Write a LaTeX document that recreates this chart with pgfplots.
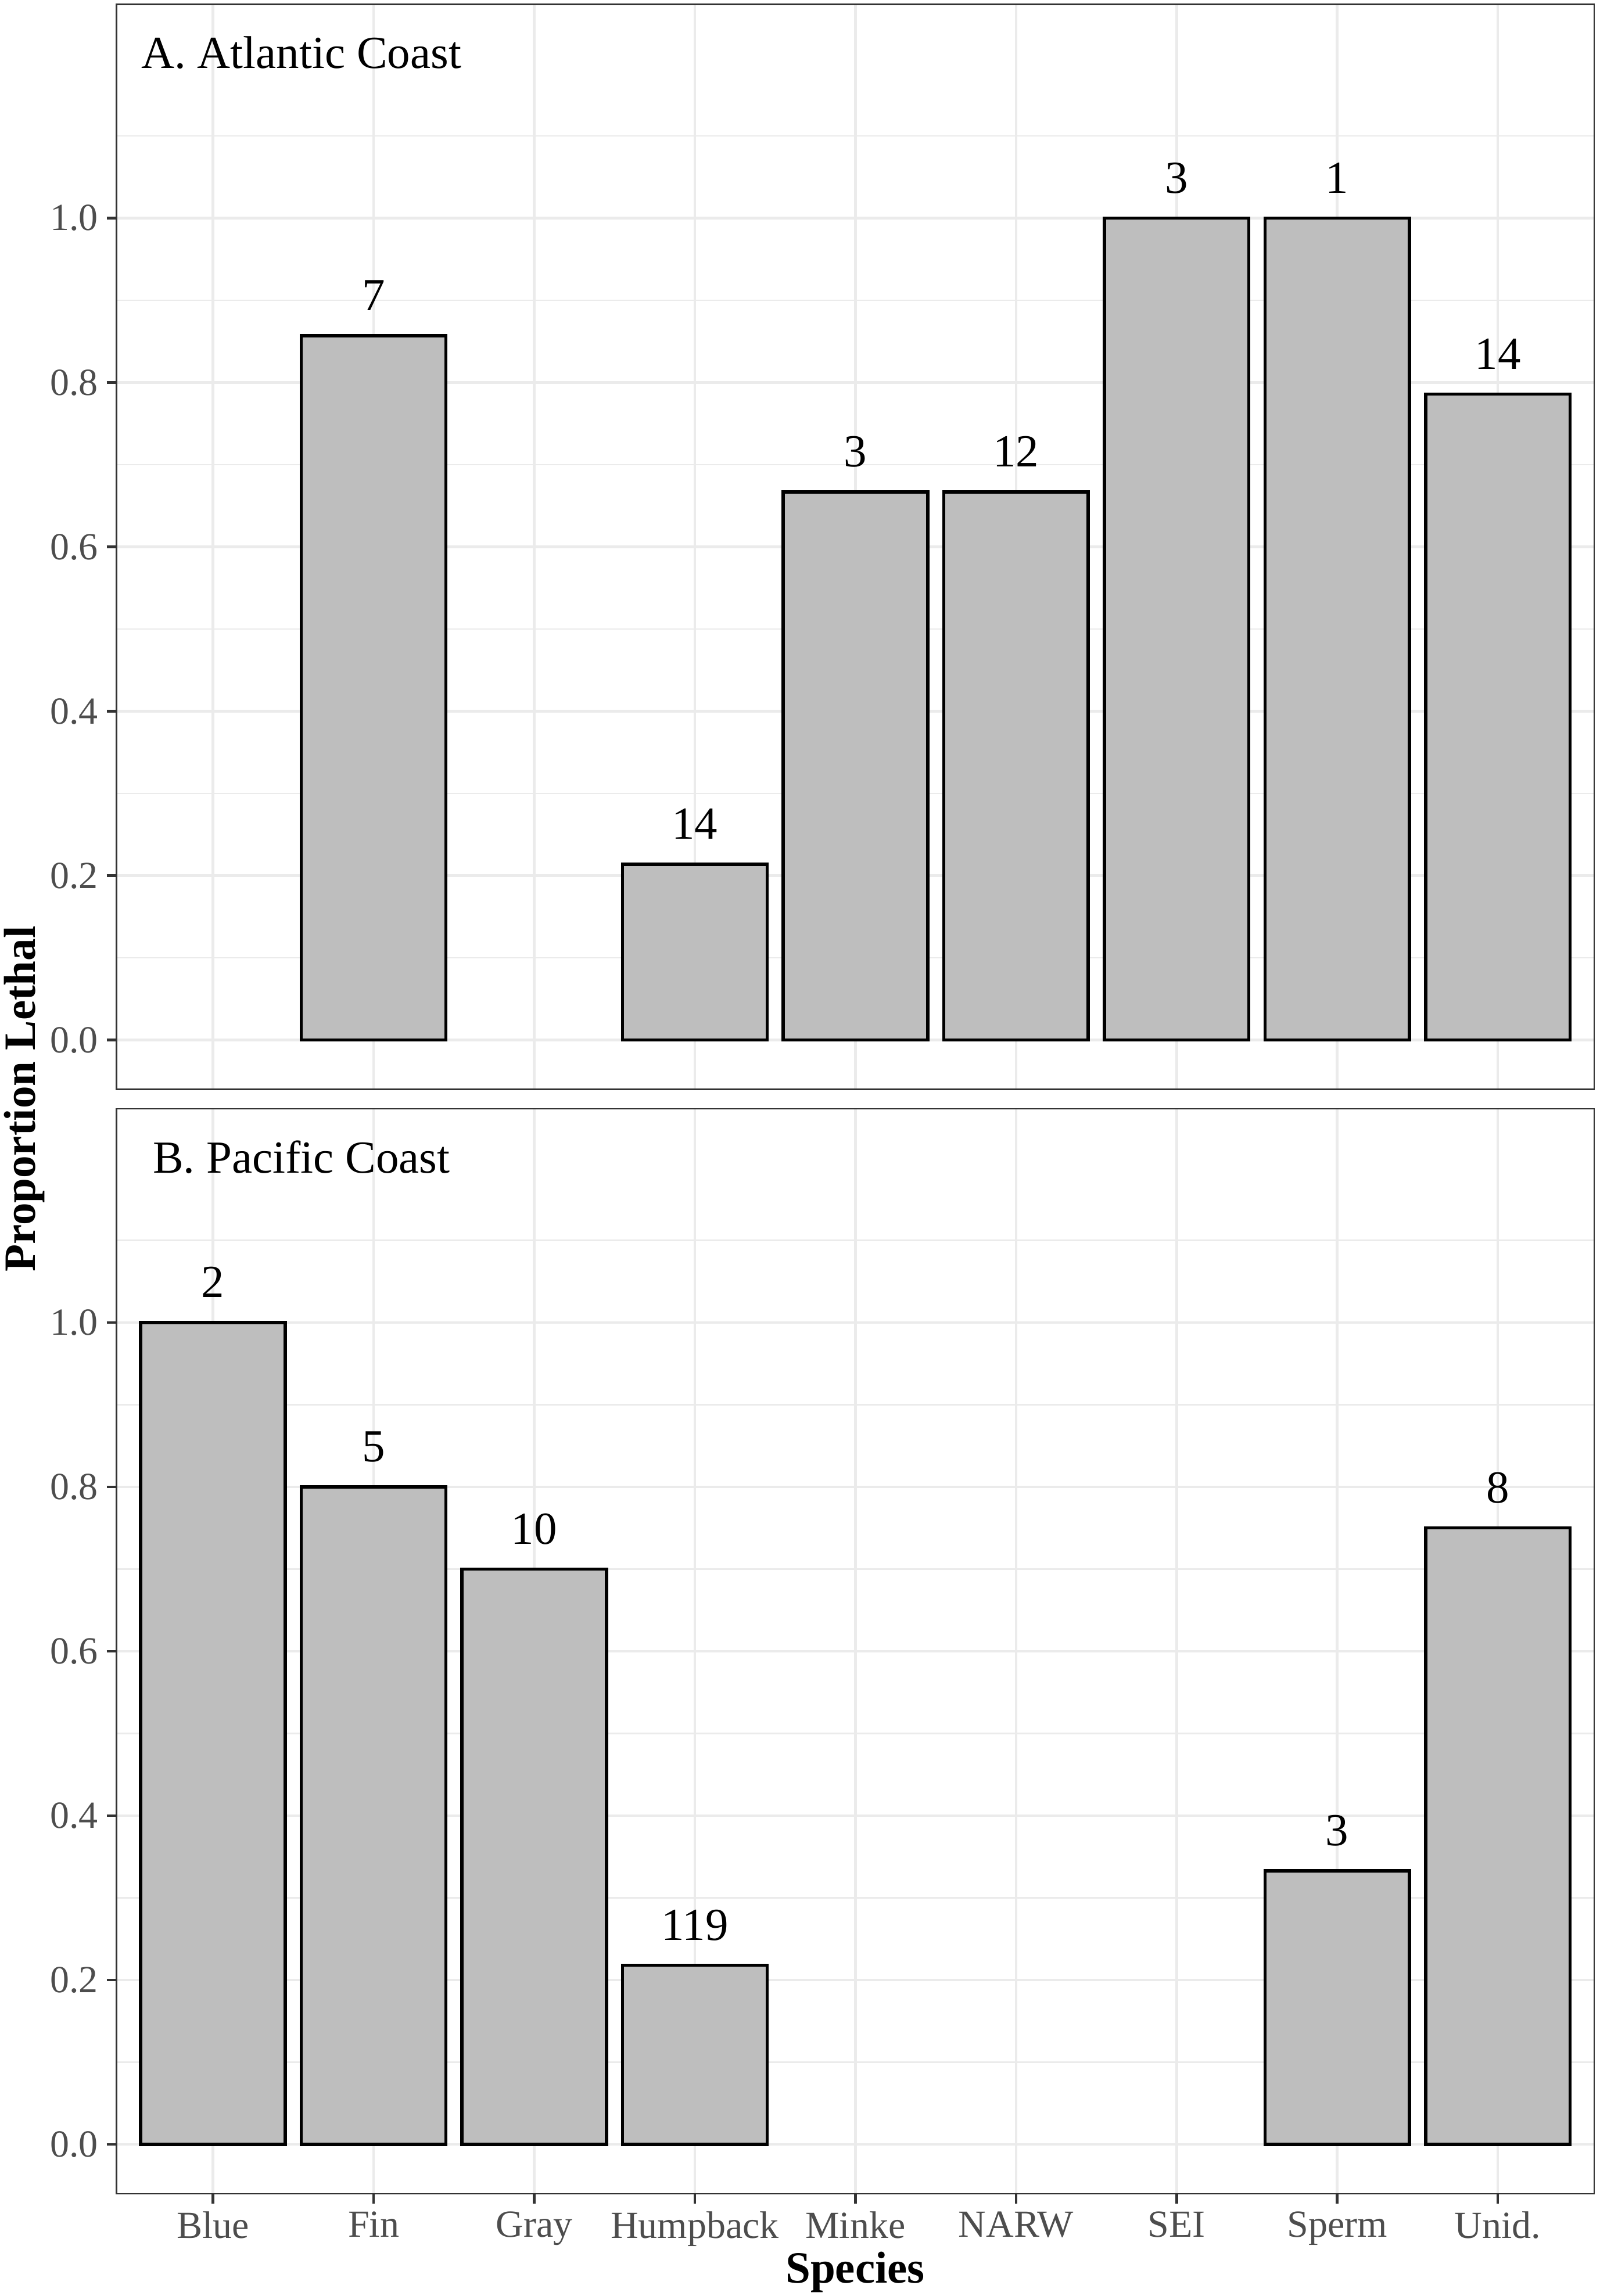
\documentclass[border=0pt]{standalone}
\usepackage{pgfplots}
\pgfplotsset{compat=1.18}
\usepackage{fontspec}
\setmainfont{Liberation Serif}
\definecolor{gridgray}{HTML}{EBEBEB}
\definecolor{grayA}{HTML}{333333}
\definecolor{grayB}{HTML}{4D4D4D}
\definecolor{barfill}{HTML}{BEBEBE}
\pgfplotsset{
  panel/.style={
    scale only axis, width=254.33pt, height=186.8pt,
    xmin=0.4, xmax=9.6, ymin=-0.06, ymax=1.26,
    xtick={1,...,9},
    ytick={0,0.2,0.4,0.6,0.8,1.0},
    minor ytick={0.1,0.3,0.5,0.7,0.9,1.1},
    yticklabel style={/pgf/number format/fixed, /pgf/number format/fixed zerofill, /pgf/number format/precision=1},
    /pgf/number format/assume math mode=true,
    grid=both,
    major grid style={color=gridgray, line width=0.45pt},
    minor grid style={color=gridgray, line width=0.23pt},
    tick align=outside, tick pos=left,
    major tick length=1.7pt, minor tick length=0pt,
    tick style={color=grayA, line width=0.45pt},
    axis line style={color=grayA, line width=0.27pt},
    ticklabel style={font=\fontsize{6.6}{7.9}\selectfont, text=grayB, inner sep=0pt},
    yticklabel style={xshift=-1.3pt},
    xticklabel style={yshift=-1.2pt},
    ybar, bar width=0.9, bar shift=0pt,
    point meta=explicit symbolic,
    nodes near coords,
    every node near coord/.append style={anchor=base, yshift=4.3pt, inner sep=0pt, font=\fontsize{7.9}{9.5}\selectfont, text=black},
  },
  barstyle/.style={fill=barfill, draw=black, line width=0.55pt},
}
\begin{document}
\begin{tikzpicture}
\useasboundingbox (0,0) rectangle (275.3pt,-395.3pt);
\begin{axis}[panel, at={(20.07pt,-0.76pt)}, anchor=north west,
  xticklabels={}, xtick style={draw=none}]
\addplot[barstyle] coordinates {
  (2,0.857) [7]
  (4,0.214) [14]
  (5,0.667) [3]
  (6,0.667) [12]
  (7,1.000) [3]
  (8,1.000) [1]
  (9,0.786) [14]
};
\node[anchor=base, inner sep=0pt, font=\fontsize{7.9}{9.5}\selectfont] at (axis cs:1.55,1.182) {A. Atlantic Coast};
\end{axis}
\begin{axis}[panel, at={(20.07pt,-190.9pt)}, anchor=north west,
  xticklabels={Blue,Fin,Gray,Humpback,Minke,NARW,SEI,Sperm,Unid.}]
\addplot[barstyle] coordinates {
  (1,1.000) [2]
  (2,0.800) [5]
  (3,0.700) [10]
  (4,0.218) [119]
  (8,0.333) [3]
  (9,0.750) [8]
};
\node[anchor=base, inner sep=0pt, font=\fontsize{7.9}{9.5}\selectfont] at (axis cs:1.55,1.182) {B. Pacific Coast};
\end{axis}
\node[rotate=90, anchor=base, inner sep=0pt, font=\fontsize{7.7}{9.2}\selectfont\bfseries] at (6.06pt,-189.2pt) {Proportion Lethal};
\node[anchor=base, inner sep=0pt, font=\fontsize{7.7}{9.2}\selectfont\bfseries] at (147.2pt,-393.0pt) {Species};
\end{tikzpicture}
\end{document}
